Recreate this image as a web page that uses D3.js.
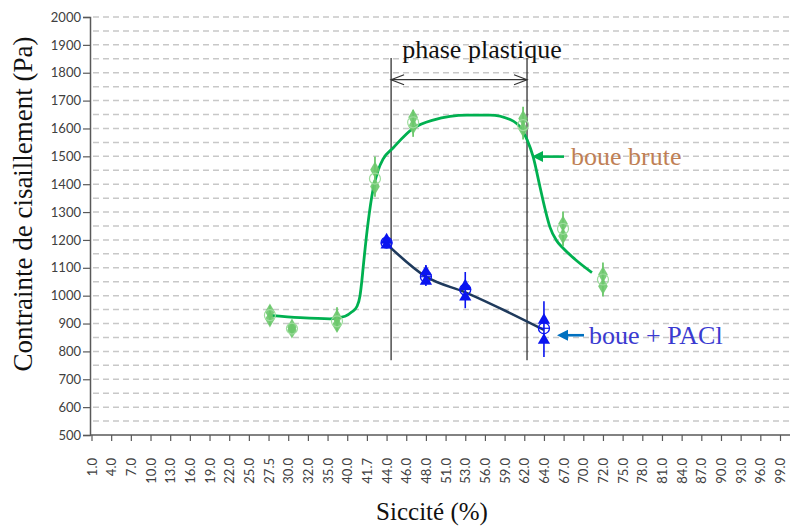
<!DOCTYPE html>
<html>
<head>
<meta charset="utf-8">
<script src="https://cdn.jsdelivr.net/npm/d3@7"></script>
<style>
  body { margin: 0; background: #fff; }
  .tick text { font-family: Lato, "Liberation Sans", sans-serif; font-size: 13px; fill: #404040; }
  .serif { font-family: "Liberation Serif", "DejaVu Serif", serif; }
</style>
</head>
<body>
<svg width="791" height="527"></svg>
<script>
// x categories (Siccité %)
var categories = ["1.0","4.0","7.0","10.0","13.0","16.0","19.0","22.0","25.0","27.5","30.0","32.0",
  "35.0","40.0","41.7","44.0","46.0","48.0","51.0","53.0","56.0","59.0","62.0","64.0","67.0","70.0",
  "72.0","75.0","78.0","81.0","84.0","87.0","90.0","93.0","96.0","99.0"];
var yTicks = [500,600,700,800,900,1000,1100,1200,1300,1400,1500,1600,1700,1800,1900,2000];
var gridValues = [550,600,650,700,750,800,850,900,950,1000,1050,1100,1150,1200,1250,1300,1350,
  1400,1450,1500,1550,1600,1650,1700,1750,1800,1850,1900,1950,2000];

// boue brute : measured points (position on category axis, as read)
var brutePos  = [9.07, 10.19, 12.48, 14.41, 16.35, 21.94, 23.97, 26.0];
var bruteMean = [930, 882, 908, 1420, 1622, 1612, 1240, 1058];
var bruteRepA = [942, 888, 922, 1452, 1640, 1636, 1258, 1076];
var bruteRepB = [916, 876, 896, 1392, 1608, 1598, 1214, 1034];
var bruteLow  = [895, 866, 872, 1355, 1570, 1560, 1177, 997];
var bruteHigh = [965, 896, 958, 1499, 1667, 1678, 1302, 1119];

// boue brute : fitted curve
var curvePos = [9.07, 10.6, 12.12, 12.89, 13.24, 13.5, 13.65, 13.75, 13.8, 14.06, 14.31, 14.57,
  14.82, 15.33, 16.35, 17.36, 19.09, 20.26, 21.28, 21.89, 22.14, 22.45, 22.8, 23.06, 23.31,
  23.62, 23.98, 24.59, 25.44];
var curveVal = [929, 921, 917, 926, 942, 962, 1000, 1058, 1094, 1262, 1380, 1450,
  1490, 1530, 1600, 1630, 1648, 1648, 1632, 1595, 1560, 1499, 1390, 1310, 1245,
  1200, 1170, 1130, 1083];

// boue + PACl
var pacPos  = [15, 17, 19, 23];
var pacMean = [1190, 1068, 1022, 883];
var pacTriA = [1200, 1085, 1035, 912];
var pacTriB = [1182, 1052, 995, 840];
var pacLow  = [1178, 1035, 955, 780];
var pacHigh = [1205, 1110, 1085, 980];
var pacLine = [1186, 1068, 1012, 877];

var svg = d3.select("svg");
svg.append("rect").attr("width", 791).attr("height", 527).attr("fill", "#fff");

var x = d3.scaleLinear().domain([0, 35]).range([91.5, 780]);
var y = d3.scaleLinear().domain([500, 2000]).range([435, 17]);

// dashed grid
svg.append("g").selectAll("line").data(gridValues).enter().append("line")
  .attr("x1", 93).attr("x2", 790)
  .attr("y1", function(d){ return y(d); }).attr("y2", function(d){ return y(d); })
  .attr("stroke", "#c8c8c8").attr("stroke-width", 1.5).attr("stroke-dasharray", "6,4");

// y axis
var yAxis = svg.append("g").attr("transform", "translate(90,0)")
  .call(d3.axisLeft(y).tickValues(yTicks).tickFormat(d3.format("d")).tickSize(7).tickPadding(2));
yAxis.select(".domain").attr("stroke", "#595959").attr("stroke-width", 1.5);
yAxis.selectAll(".tick line").attr("stroke", "#595959").attr("stroke-width", 1.2);

// x axis
var xAxis = svg.append("g").attr("transform", "translate(0,435)")
  .call(d3.axisBottom(x).tickValues(d3.range(categories.length))
    .tickFormat(function(i){ return categories[i]; }).tickSize(6).tickSizeOuter(0));
xAxis.select(".domain").attr("d", "M90,0H790").attr("stroke", "#595959").attr("stroke-width", 1.5);
xAxis.selectAll(".tick line").attr("stroke", "#595959").attr("stroke-width", 1.2);
xAxis.selectAll(".tick text")
  .attr("transform", "rotate(-90)")
  .attr("text-anchor", "end")
  .attr("x", -23).attr("y", 0).attr("dy", "0.35em");

// axis titles
svg.append("text").attr("class", "serif")
  .attr("transform", "translate(32,204) rotate(-90)")
  .attr("text-anchor", "middle").attr("font-size", 27).attr("fill", "#111")
  .text("Contrainte de cisaillement (Pa)");
svg.append("text").attr("class", "serif")
  .attr("x", 432).attr("y", 520).attr("text-anchor", "middle")
  .attr("font-size", 25).attr("fill", "#111")
  .text("Siccité (%)");

// phase plastique annotation
var phaseX = [15.23, 22.14];
phaseX.forEach(function(p){
  svg.append("line")
    .attr("x1", x(p)).attr("x2", x(p))
    .attr("y1", y(1853)).attr("y2", y(768))
    .attr("stroke", "#222").attr("stroke-width", 1.2);
});
var ay = y(1775);
svg.append("line").attr("x1", x(phaseX[0])).attr("x2", x(phaseX[1]))
  .attr("y1", ay).attr("y2", ay).attr("stroke", "#333").attr("stroke-width", 1.2);
svg.append("path")
  .attr("d", "M" + (x(phaseX[0]) + 13) + "," + (ay - 5) + "L" + x(phaseX[0]) + "," + ay + "L" + (x(phaseX[0]) + 13) + "," + (ay + 5) +
             "M" + (x(phaseX[1]) - 13) + "," + (ay - 5) + "L" + x(phaseX[1]) + "," + ay + "L" + (x(phaseX[1]) - 13) + "," + (ay + 5))
  .attr("fill", "none").attr("stroke", "#333").attr("stroke-width", 1.2);
svg.append("text").attr("class", "serif")
  .attr("x", 482).attr("y", 58).attr("text-anchor", "middle")
  .attr("font-size", 26).attr("fill", "#111").text("phase plastique");

// fitted curve boue brute
var curveLine = d3.line()
  .x(function(d){ return x(d[0]); }).y(function(d){ return y(d[1]); })
  .curve(d3.curveMonotoneX);
svg.append("path")
  .datum(d3.zip(curvePos, curveVal))
  .attr("d", curveLine)
  .attr("fill", "none").attr("stroke", "#00b050").attr("stroke-width", 2.8);

// boue brute markers
var gcol = "#6cc86c";
var brute = brutePos.map(function(p, i){
  return {p: p, m: bruteMean[i], a: bruteRepA[i], b: bruteRepB[i], lo: bruteLow[i], hi: bruteHigh[i]};
});
var gb = svg.append("g").selectAll("g").data(brute).enter().append("g");
gb.append("line")
  .attr("x1", function(d){ return x(d.p); }).attr("x2", function(d){ return x(d.p); })
  .attr("y1", function(d){ return y(d.lo); }).attr("y2", function(d){ return y(d.hi); })
  .attr("stroke", gcol).attr("stroke-width", 1.8);
var diamond = d3.symbol().type(d3.symbolDiamond).size(80);
gb.append("path").attr("d", diamond)
  .attr("transform", function(d){ return "translate(" + x(d.p) + "," + y(d.a) + ")"; })
  .attr("fill", gcol).attr("fill-opacity", 0.9);
gb.append("path").attr("d", diamond)
  .attr("transform", function(d){ return "translate(" + x(d.p) + "," + y(d.b) + ")"; })
  .attr("fill", gcol).attr("fill-opacity", 0.9);
gb.append("circle")
  .attr("cx", function(d){ return x(d.p); }).attr("cy", function(d){ return y(d.m); })
  .attr("r", 5.5).attr("fill", "none").attr("stroke", "#9ddc9d").attr("stroke-width", 1.2);

// boue + PACl line
var pacPath = d3.line()
  .x(function(d){ return x(d[0]); }).y(function(d){ return y(d[1]); })
  .curve(d3.curveMonotoneX);
svg.append("path")
  .datum(d3.zip(pacPos, pacLine))
  .attr("d", pacPath)
  .attr("fill", "none").attr("stroke", "#1f3a5c").attr("stroke-width", 2.6);

// boue + PACl markers
var bcol = "#0a14f0";
var pac = pacPos.map(function(p, i){
  return {p: p, m: pacMean[i], a: pacTriA[i], b: pacTriB[i], lo: pacLow[i], hi: pacHigh[i]};
});
var bg = svg.append("g").selectAll("g").data(pac).enter().append("g");
bg.append("line")
  .attr("x1", function(d){ return x(d.p); }).attr("x2", function(d){ return x(d.p); })
  .attr("y1", function(d){ return y(d.lo); }).attr("y2", function(d){ return y(d.hi); })
  .attr("stroke", bcol).attr("stroke-width", 1.6);
var tri = d3.symbol().type(d3.symbolTriangle).size(65);
bg.append("path").attr("d", tri)
  .attr("transform", function(d){ return "translate(" + x(d.p) + "," + y(d.a) + ")"; })
  .attr("fill", bcol);
bg.append("path").attr("d", tri)
  .attr("transform", function(d){ return "translate(" + x(d.p) + "," + y(d.b) + ")"; })
  .attr("fill", bcol);
bg.append("circle")
  .attr("cx", function(d){ return x(d.p); }).attr("cy", function(d){ return y(d.m); })
  .attr("r", 5.5).attr("fill", "none").attr("stroke", bcol).attr("stroke-width", 1.3);
bg.append("line")
  .attr("x1", function(d){ return x(d.p) - 5.5; }).attr("x2", function(d){ return x(d.p) + 5.5; })
  .attr("y1", function(d){ return y(d.m); }).attr("y2", function(d){ return y(d.m); })
  .attr("stroke", bcol).attr("stroke-width", 1.2);

// series labels with arrows
function arrow(x1, x2, yy, col) {
  svg.append("line").attr("x1", x1).attr("x2", x2 + 8).attr("y1", yy).attr("y2", yy)
    .attr("stroke", col).attr("stroke-width", 2.6);
  svg.append("path")
    .attr("d", "M" + x2 + "," + yy + "L" + (x2 + 11) + "," + (yy - 5.5) + "L" + (x2 + 11) + "," + (yy + 5.5) + "Z")
    .attr("fill", col);
}
arrow(564, 532, y(1499), "#00b050");
svg.append("text").attr("class", "serif")
  .attr("x", 571).attr("y", y(1499) + 8).attr("font-size", 26).attr("fill", "#c07f55")
  .text("boue brute");
arrow(584, 557, y(858), "#0070c0");
svg.append("text").attr("class", "serif")
  .attr("x", 589).attr("y", y(858) + 9).attr("font-size", 26).attr("fill", "#3a3ad0")
  .text("boue + PACl");
</script>
</body>
</html>
